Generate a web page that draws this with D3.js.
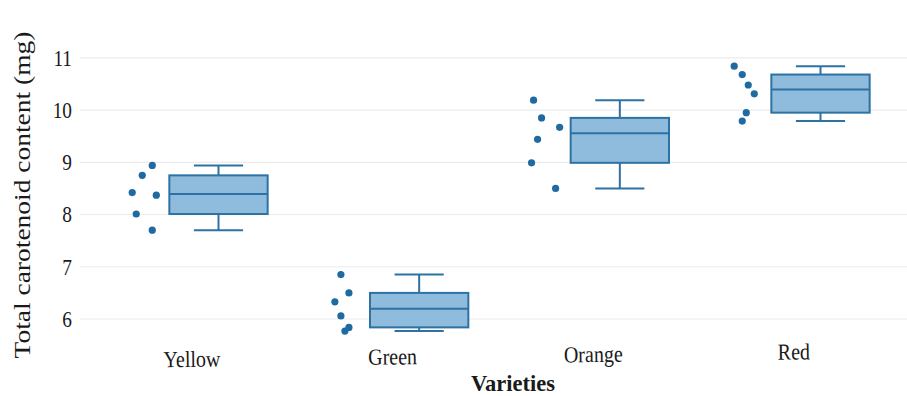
<!DOCTYPE html>
<html>
<head>
<meta charset="utf-8">
<script src="https://cdn.jsdelivr.net/npm/d3@7"></script>
<style>
  body { margin: 0; background: #fff; }
  svg text { font-family: "Liberation Serif", "Times New Roman", serif; fill: #1a1a1a; }
</style>
</head>
<body>
<svg id="chart"></svg>
<script>
// Datos
const varieties = ['Yellow', 'Green', 'Orange', 'Red'];
const yellowValues = [8.93, 8.74, 8.41, 8.36, 8.00, 7.69];
const greenValues = [6.84, 6.49, 6.32, 6.05, 5.83, 5.76];
const orangeValues = [10.18, 9.84, 9.66, 9.43, 8.98, 8.49];
const redValues = [10.83, 10.67, 10.47, 10.30, 9.94, 9.78];
// desplazamiento horizontal de los puntos (fraccion del paso entre categorias)
const yellowJitter = [-0.33, -0.38, -0.43, -0.31, -0.41, -0.33];
const greenJitter = [-0.39, -0.35, -0.42, -0.39, -0.35, -0.37];
const orangeJitter = [-0.43, -0.39, -0.30, -0.41, -0.44, -0.32];
const redJitter = [-0.43, -0.39, -0.36, -0.33, -0.37, -0.39];
const yTicks = [6, 7, 8, 9, 10, 11];

const series = [yellowValues, greenValues, orangeValues, redValues];
const jitters = [yellowJitter, greenJitter, orangeJitter, redJitter];

const width = 907;
const height = 396;

const svg = d3.select('#chart')
    .attr('width', width)
    .attr('height', height);

const x = d3.scalePoint()
    .domain(varieties)
    .range([218.5, 820.5]);

const y = d3.scaleLinear()
    .domain([6, 11])
    .range([318.5, 57.3]);

const step = x.step();
const boxWidth = step * 0.49;

// Estrecha el texto horizontalmente (la figura original esta comprimida)
function squeeze(sel, k) {
    sel.each(function () {
        const len = this.getComputedTextLength();
        d3.select(this)
            .attr('textLength', len * k)
            .attr('lengthAdjust', 'spacingAndGlyphs');
    });
}

// Eje Y con lineas de cuadricula
const yAxis = svg.append('g')
    .attr('transform', 'translate(80,0)')
    .call(d3.axisLeft(y).tickValues(yTicks).tickSize(-(width - 80)).tickPadding(8).tickFormat(d3.format('d')));
yAxis.select('.domain').remove();
yAxis.selectAll('line').attr('stroke', '#ececec').attr('stroke-width', 1.2);
yAxis.selectAll('text').style('font-size', '23px').attr('dy', '0.34em').call(squeeze, 0.84);

// Titulo eje Y
svg.append('text')
    .attr('transform', 'translate(30,195) rotate(-90) scale(1,0.86)')
    .attr('text-anchor', 'middle')
    .style('font-size', '27.5px')
    .text('Total carotenoid content (mg)');

// Eje X (solo etiquetas), ligeramente inclinado como en la figura
const xAxis = svg.append('g')
    .attr('transform', 'rotate(-0.7,513,363) translate(0,363)')
    .call(d3.axisBottom(x).tickSize(0).tickPadding(0));
xAxis.select('.domain').remove();
xAxis.selectAll('text')
    .attr('dx', -27)
    .attr('dy', 0)
    .style('font-size', '23px')
    .call(squeeze, 0.87);

svg.append('text')
    .attr('x', 513)
    .attr('y', 391)
    .attr('text-anchor', 'middle')
    .style('font-size', '22.5px')
    .style('font-weight', 'bold')
    .text('Varieties');

// Estadisticas de caja (bisagras de Tukey)
function stats(values) {
    const s = values.slice().sort(d3.ascending);
    const n = s.length;
    const half = Math.ceil(n / 2);
    const lower = s.slice(0, n % 2 ? half : n / 2);
    const upper = s.slice(n % 2 ? half - 1 : n / 2);
    return {
        min: s[0],
        q1: d3.median(lower),
        median: d3.median(s),
        q3: d3.median(upper),
        max: s[n - 1]
    };
}

const boxData = varieties.map((v, i) => ({ name: v, values: series[i], jitter: jitters[i], s: stats(series[i]) }));

const stroke = '#2d72a3';
const fill = '#8fbbdc';
const dotColor = '#1f6aa0';

const group = svg.selectAll('.box')
    .data(boxData)
    .enter().append('g')
    .attr('class', 'box');

// Bigotes
group.append('line')
    .attr('x1', d => x(d.name))
    .attr('x2', d => x(d.name))
    .attr('y1', d => y(d.s.max))
    .attr('y2', d => y(d.s.min))
    .attr('stroke', stroke)
    .attr('stroke-width', 2);

group.selectAll('.cap')
    .data(d => [d.s.min, d.s.max].map(v => ({ name: d.name, v: v })))
    .enter().append('line')
    .attr('class', 'cap')
    .attr('x1', d => x(d.name) - boxWidth / 4)
    .attr('x2', d => x(d.name) + boxWidth / 4)
    .attr('y1', d => y(d.v))
    .attr('y2', d => y(d.v))
    .attr('stroke', stroke)
    .attr('stroke-width', 2);

group.append('rect')
    .attr('x', d => x(d.name) - boxWidth / 2)
    .attr('y', d => y(d.s.q3))
    .attr('width', boxWidth)
    .attr('height', d => y(d.s.q1) - y(d.s.q3))
    .attr('fill', fill)
    .attr('stroke', stroke)
    .attr('stroke-width', 2);

group.append('line')
    .attr('x1', d => x(d.name) - boxWidth / 2)
    .attr('x2', d => x(d.name) + boxWidth / 2)
    .attr('y1', d => y(d.s.median))
    .attr('y2', d => y(d.s.median))
    .attr('stroke', stroke)
    .attr('stroke-width', 2);

// Puntos
group.selectAll('circle')
    .data(d => d.values.map((v, i) => ({ name: d.name, v: v, j: d.jitter[i] })))
    .enter().append('circle')
    .attr('cx', d => x(d.name) + d.j * step)
    .attr('cy', d => y(d.v))
    .attr('r', 3.6)
    .attr('fill', dotColor);
</script>
</body>
</html>
